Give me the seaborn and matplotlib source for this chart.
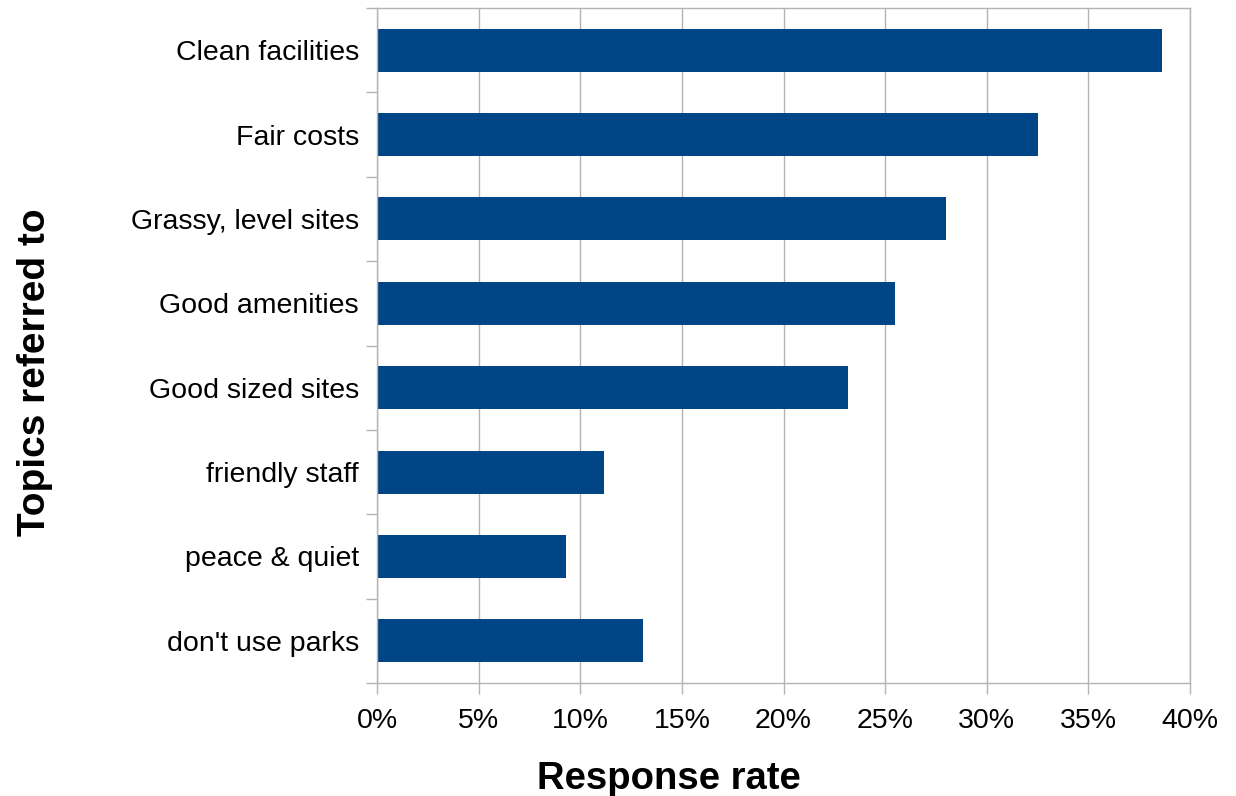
import numpy as np
import pandas as pd
import matplotlib
matplotlib.use("Agg")
import matplotlib.pyplot as plt
import seaborn as sns
from matplotlib.ticker import PercentFormatter, FixedLocator

topics = ['Clean facilities', 'Fair costs', 'Grassy, level sites', 'Good amenities',
          'Good sized sites', 'friendly staff', 'peace & quiet', "don't use parks"]
rates = [38.6, 32.5, 28.0, 25.5, 23.15, 11.15, 9.3, 13.1]

df = pd.DataFrame({'topic': topics, 'rate': rates})

sns.set_theme(style="white")
plt.rcParams['font.family'] = ['Liberation Sans', 'DejaVu Sans']

grid_col = '#b3b3b3'

fig = plt.figure(figsize=(12.36, 7.96), dpi=100)
ax = fig.add_axes([377/1236, 1 - 683/796, (1190-377)/1236, (683-8)/796])

sns.barplot(data=df, x='rate', y='topic', orient='h', color='#004586',
            saturation=1, width=0.51, linewidth=0, ax=ax)

ax.set_xlim(0, 40)
ax.set_ylim(len(topics) - 0.5, -0.5)
ax.set_xticks(np.arange(0, 41, 5))
ax.xaxis.set_major_formatter(PercentFormatter(decimals=0))
ax.grid(axis='x', color=grid_col, linewidth=1)
ax.set_axisbelow(True)

for s in ax.spines.values():
    s.set_color(grid_col)
    s.set_linewidth(1)

# labels in the middle of each band, tick marks on band boundaries
ax.tick_params(axis='y', which='major', length=0, pad=13, labelsize=20.5, labelcolor='black')
ax.yaxis.set_minor_locator(FixedLocator(np.arange(-0.5, len(topics), 1)))
ax.tick_params(axis='y', which='minor', length=8, width=1, color=grid_col, left=True)
ax.tick_params(axis='x', length=8, width=1, color=grid_col, pad=10, labelsize=20.5,
               labelcolor='black', bottom=True)

ax.set_xlabel('Response rate', fontsize=27.5, fontweight='bold', color='black')
ax.set_ylabel('Topics referred to', fontsize=28, fontweight='bold', color='black')
ax.xaxis.set_label_coords((669 - 377) / 813, (683 - 761) / 675)
ax.yaxis.set_label_coords((53 - 377) / 813, (683 - 372) / 675)

fig.savefig('out.png', dpi=100)
